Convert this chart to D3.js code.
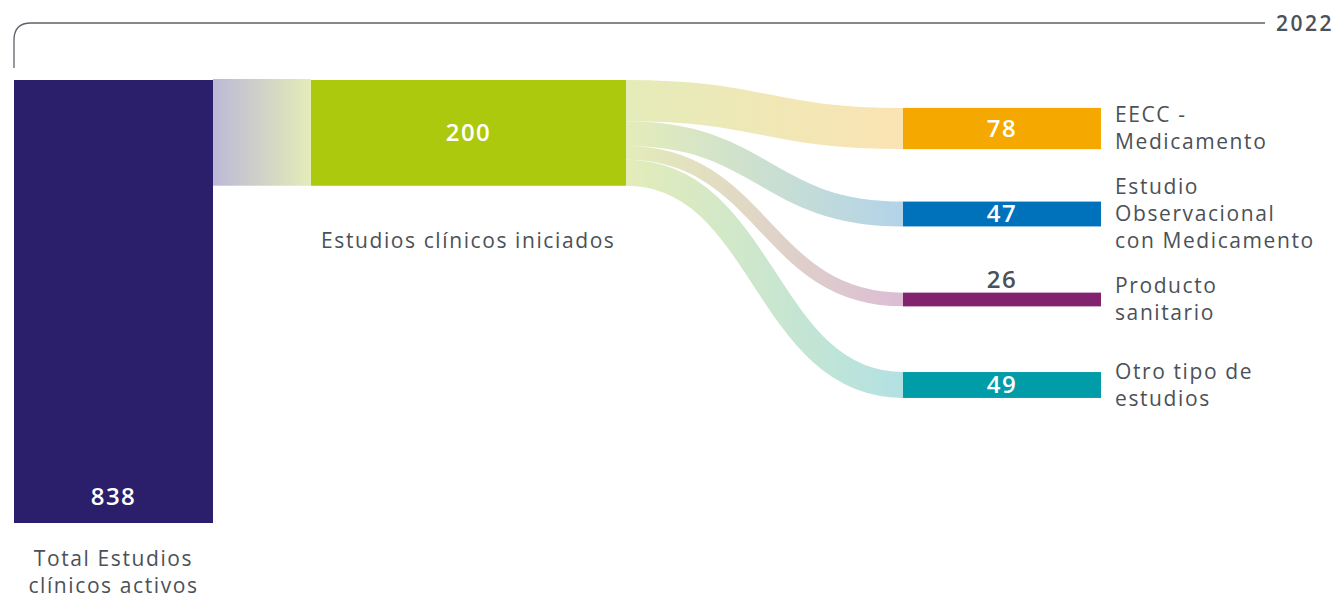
<!DOCTYPE html>
<html>
<head>
<meta charset="utf-8">
<script src="https://cdn.jsdelivr.net/npm/d3@7"></script>
<style>
  body { margin: 0; background: #fff; }
  svg text { font-family: "Open Sans", Lato, sans-serif; letter-spacing: 1.6px; }
</style>
</head>
<body>
<svg id="chart" width="1337" height="599"></svg>
<script>
// data
const year = "2022";
const totalLabel = ["Total Estudios", "clínicos activos"];
const totalValue = 838;
const startedLabel = "Estudios clínicos iniciados";
const startedValue = 200;
const typeNames = [
  ["EECC -", "Medicamento"],
  ["Estudio", "Observacional", "con Medicamento"],
  ["Producto", "sanitario"],
  ["Otro tipo de", "estudios"]
];
const typeValues = [78, 47, 26, 49];
const typeColors = ["#f5a800", "#0072bc", "#83226e", "#009ca8"];
const typeLight = ["#fbe3b3", "#b2d3e9", "#dcbdd5", "#b2e1e3"];

const svg = d3.select("#chart");
const textColor = "#4b5157";

// scales
const h = d3.scaleLinear().domain([0, totalValue]).range([0, 443]);
const topY = 80;
const col = { x0: 14, w0: 199, x1: 311, w1: 315, x2: 903, w2: 198 };
const yCenter = d3.scalePoint()
  .domain(d3.range(typeValues.length))
  .range([128.5, 385]);

// gradients
const defs = svg.append("defs");
function grad(id, x1, x2, c1, c2) {
  const g = defs.append("linearGradient")
    .attr("id", id)
    .attr("gradientUnits", "userSpaceOnUse")
    .attr("x1", x1).attr("x2", x2).attr("y1", 0).attr("y2", 0);
  g.append("stop").attr("offset", "0%").attr("stop-color", c1);
  g.append("stop").attr("offset", "100%").attr("stop-color", c2);
}

// bracket with year
svg.append("path")
  .attr("d", `M14,68 V40 Q14,23 31,23 H1265`)
  .attr("fill", "none")
  .attr("stroke", "#5d6369")
  .attr("stroke-width", 1.3);
svg.append("text")
  .attr("x", 1334).attr("y", 31)
  .attr("text-anchor", "end")
  .attr("font-size", 21).attr("font-weight", 600)
  .style("letter-spacing", "2.5px")
  .attr("fill", textColor)
  .text(year);

// link total -> started
grad("g0", col.x0 + col.w0, col.x1, "#bcb9d6", "#e4ecb9");
svg.append("rect")
  .attr("x", col.x0 + col.w0).attr("y", topY - 1)
  .attr("width", col.x1 - col.x0 - col.w0)
  .attr("height", h(startedValue) + 1)
  .attr("fill", "url(#g0)");

// links started -> types
let sy = topY;
const link = d3.linkHorizontal();
typeValues.forEach((v, i) => {
  const w = h(v);
  grad("gl" + i, col.x1 + col.w1, col.x2, "#e4ecb9", typeLight[i]);
  svg.append("path")
    .attr("d", link({
      source: [col.x1 + col.w1, sy + w / 2],
      target: [col.x2, yCenter(i)]
    }))
    .attr("fill", "none")
    .attr("stroke", `url(#gl${i})`)
    .attr("stroke-width", w);
  sy += w;
});

// total bar
svg.append("rect")
  .attr("x", col.x0).attr("y", topY)
  .attr("width", col.w0).attr("height", h(totalValue))
  .attr("fill", "#2b1f6b");
svg.append("text")
  .attr("class", "num")
  .attr("x", col.x0 + col.w0 / 2).attr("y", topY + h(totalValue) - 18)
  .attr("text-anchor", "middle")
  .attr("fill", "#fff")
  .text(totalValue);
svg.append("text")
  .attr("x", col.x0 + col.w0 / 2).attr("y", 566)
  .attr("text-anchor", "middle")
  .attr("font-size", 21)
  .attr("fill", textColor)
  .selectAll("tspan")
  .data(totalLabel)
  .join("tspan")
  .attr("x", col.x0 + col.w0 / 2)
  .attr("dy", (d, i) => i ? 27 : 0)
  .text(d => d);

// started bar
svg.append("rect")
  .attr("x", col.x1).attr("y", topY)
  .attr("width", col.w1).attr("height", h(startedValue))
  .attr("fill", "#adc90e");
svg.append("text")
  .attr("class", "num")
  .attr("x", col.x1 + col.w1 / 2).attr("y", topY + h(startedValue) / 2 + 8)
  .attr("text-anchor", "middle")
  .attr("fill", "#fff")
  .text(startedValue);
svg.append("text")
  .attr("x", 321).attr("y", 248)
  .attr("font-size", 21)
  .attr("fill", textColor)
  .text(startedLabel);

// type bars
const types = svg.selectAll("g.type")
  .data(typeValues)
  .join("g")
  .attr("class", "type");

types.append("rect")
  .attr("x", col.x2)
  .attr("y", (d, i) => yCenter(i) - h(d) / 2)
  .attr("width", col.w2)
  .attr("height", d => h(d))
  .attr("fill", (d, i) => typeColors[i]);

types.append("text")
  .attr("class", "num")
  .attr("x", col.x2 + col.w2 / 2)
  .attr("y", (d, i) => h(d) < 20 ? yCenter(i) - h(d) / 2 - 5 : yCenter(i) + 8)
  .attr("text-anchor", "middle")
  .attr("fill", d => h(d) < 20 ? textColor : "#fff")
  .text(d => d);

types.append("text")
  .attr("x", 1115)
  .attr("y", (d, i) => yCenter(i) - (typeNames[i].length - 1) * 13.5 + 7)
  .attr("font-size", 21)
  .attr("fill", textColor)
  .selectAll("tspan")
  .data((d, i) => typeNames[i])
  .join("tspan")
  .attr("x", 1115)
  .attr("dy", (d, i) => i ? 27 : 0)
  .text(d => d);

svg.selectAll("text.num")
  .attr("font-size", 24)
  .attr("font-weight", 600)
  .style("letter-spacing", "1.5px");
</script>
</body>
</html>
